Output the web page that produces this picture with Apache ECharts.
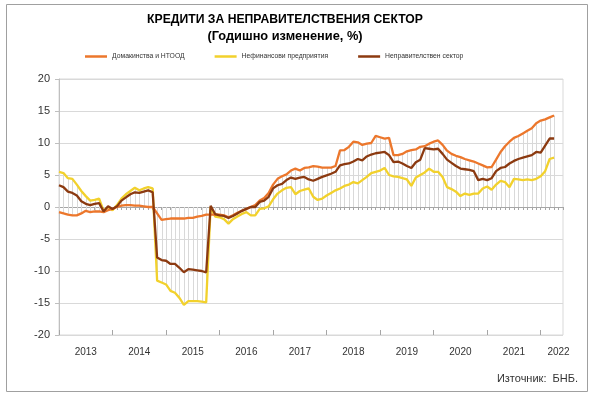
<!DOCTYPE html>
<html>
<head>
<meta charset="utf-8">
<script src="https://cdn.jsdelivr.net/npm/echarts@6/dist/echarts.min.js"></script>
<style>
html,body{margin:0;padding:0;background:#fff;}
#chart{width:591px;height:399px;}
</style>
</head>
<body>
<div id="chart"></div>
<script>
// Monthly categories: Jan 2013 .. Jun 2022
const months = [];
for (let y = 2013; y <= 2022; y++) {
  for (let m = 1; m <= 12; m++) {
    if (y === 2022 && m > 6) break;
    months.push(y + '-' + (m < 10 ? '0' + m : m));
  }
}

const seriesNames = ['Домакинства и НТООД', 'Нефинансови предприятия', 'Неправителствен сектор'];

const households = [
  -0.8,-1.0,-1.2,-1.3,-1.3,-1.0,-0.6,-0.8,-0.7,-0.7,-0.8,-0.5,
  -0.3,0.0,0.2,0.3,0.3,0.2,0.2,0.1,0.0,0.0,-1.0,-2.0,
  -1.9,-1.8,-1.8,-1.8,-1.8,-1.7,-1.7,-1.5,-1.4,-1.2,-1.2,-1.2,
  -1.2,-1.3,-1.6,-1.3,-0.9,-0.6,-0.3,0.0,0.3,1.0,1.4,2.2,
  3.5,4.4,4.8,5.1,5.7,6.0,5.7,6.1,6.2,6.4,6.3,6.15,
  6.15,6.15,6.4,8.85,8.9,9.4,10.2,10.1,9.7,9.9,10.0,11.1,
  10.9,10.7,10.8,8.1,8.1,8.3,8.7,8.9,9.0,9.4,9.5,9.9,
  10.2,10.4,9.7,8.8,8.3,8.0,7.8,7.5,7.3,7.1,6.8,6.5,
  6.2,6.25,7.4,8.6,9.5,10.2,10.8,11.1,11.5,11.9,12.3,13.1,
  13.5,13.7,14.0,14.3
];

const corporations = [
  5.5,5.3,4.5,4.4,3.5,2.5,1.7,1.0,1.1,1.3,-0.6,0.0,
  -0.5,0.3,1.3,2.0,2.5,3.0,2.6,2.9,3.1,2.9,-11.5,-11.8,
  -12.1,-13.1,-13.4,-14.2,-15.3,-14.7,-14.7,-14.7,-14.8,-14.9,0.0,-1.5,
  -1.6,-1.9,-2.6,-1.9,-1.5,-1.1,-0.8,-1.3,-1.3,-0.3,-0.2,0.1,
  1.2,2.1,2.6,3.0,3.1,2.0,2.5,2.7,2.9,1.6,1.1,1.3,
  1.8,2.2,2.6,2.9,3.3,3.5,3.9,3.7,4.2,4.7,5.3,5.5,
  5.7,6.1,5.0,4.8,4.7,4.5,4.3,3.3,4.6,5.0,5.4,6.0,
  5.5,5.5,4.7,3.1,2.8,2.4,1.7,2.1,1.9,2.1,2.1,2.9,
  3.2,2.7,3.5,4.1,3.9,3.1,4.4,4.3,4.2,4.3,4.2,4.4,
  4.8,5.6,7.5,7.7
];

const nonGovernment = [
  3.4,3.1,2.4,2.2,1.8,0.9,0.5,0.3,0.5,0.6,-0.7,0.1,
  -0.3,0.1,1.0,1.5,2.0,2.3,2.2,2.4,2.6,2.3,-7.9,-8.3,
  -8.4,-8.9,-8.9,-9.5,-10.2,-9.7,-9.8,-9.9,-10.0,-10.2,0.2,-1.1,
  -1.3,-1.4,-1.7,-1.4,-1.0,-0.6,-0.3,0.0,0.0,0.8,1.0,1.6,
  2.9,3.4,3.6,4.2,4.6,4.4,4.6,4.7,4.3,4.1,4.4,4.7,
  4.95,5.2,5.5,6.5,6.7,6.8,7.1,7.5,7.3,7.9,8.2,8.4,
  8.5,8.6,8.1,7.0,7.1,6.8,6.4,6.1,7.0,7.4,9.2,9.1,
  9.0,9.1,8.3,7.4,6.9,6.4,6.0,5.9,5.8,5.6,4.2,4.4,
  4.2,4.5,5.6,6.1,6.25,6.8,7.2,7.5,7.7,7.9,8.1,8.6,
  8.5,9.6,10.7,10.7
];

const yTicks = { min: -20, max: 20, interval: 5 };

// drop lines from the zero axis to the extreme value of each month
const dropLines = households.map(function (v, i) {
  const vals = [0, v, corporations[i], nonGovernment[i]];
  return [i, Math.min.apply(null, vals), Math.max.apply(null, vals)];
});

const FONT = 'Liberation Sans, Arial, sans-serif';
const chart = echarts.init(document.getElementById('chart'), null, { renderer: 'canvas' });

const baseCat = { type: 'category', data: months, boundaryGap: false, position: 'bottom', gridIndex: 0 };

chart.setOption({
  animation: false,
  backgroundColor: '#ffffff',
  title: {
    text: 'КРЕДИТИ ЗА НЕПРАВИТЕЛСТВЕНИЯ СЕКТОР',
    subtext: '(Годишно изменение, %)',
    left: 280,
    textAlign: 'center',
    top: 9,
    itemGap: 4,
    textStyle: { fontFamily: FONT, fontSize: 12.2, fontWeight: 'bold', color: '#000' },
    subtextStyle: { fontFamily: FONT, fontSize: 12.8, fontWeight: 'bold', color: '#000' }
  },
  legend: {
    data: seriesNames,
    left: 80,
    top: 48,
    icon: 'rect',
    itemWidth: 22,
    itemHeight: 2.5,
    itemGap: 30,
    textStyle: { fontFamily: FONT, fontSize: 6.8, color: '#333' }
  },
  grid: {
    left: 59, right: 28, top: 79, bottom: 64,
    show: true, borderColor: '#d9d9d9', borderWidth: 1
  },
  xAxis: [
    Object.assign({}, baseCat, {
      axisLine: { show: false, onZero: false },
      axisTick: { show: false },
      splitLine: { show: false },
      axisLabel: {
        interval: function (idx) { return idx % 12 === 6 || idx === 112; },
        formatter: function (v) { return v.slice(0, 4); },
        margin: 12,
        fontFamily: FONT, fontSize: 10, color: '#333'
      }
    }),
    Object.assign({}, baseCat, {
      axisLine: { show: true, onZero: true, lineStyle: { color: '#a6a6a6', width: 1 } },
      axisTick: { show: true, interval: 0, length: 3, lineStyle: { color: '#a6a6a6' } },
      axisLabel: { show: false },
      splitLine: { show: false }
    }),
    Object.assign({}, baseCat, {
      axisLine: { show: false, onZero: true },
      axisTick: { show: true, inside: true, length: 5,
        interval: function (idx) { return idx % 12 === 0; },
        lineStyle: { color: '#a6a6a6' } },
      axisLabel: { show: false },
      splitLine: { show: false }
    })
  ],
  yAxis: {
    type: 'value',
    min: yTicks.min, max: yTicks.max, interval: yTicks.interval,
    axisLine: { show: true, lineStyle: { color: '#bfbfbf' } },
    axisTick: { show: true, length: 4, lineStyle: { color: '#bfbfbf' } },
    splitLine: { show: true, lineStyle: { color: '#d9d9d9', width: 1 } },
    axisLabel: { margin: 9, fontFamily: FONT, fontSize: 11, color: '#333' }
  },
  series: [
    {
      type: 'custom',
      name: 'drop',
      xAxisIndex: 0,
      data: dropLines,
      encode: { x: 0, y: [1, 2] },
      silent: true,
      z: 1,
      renderItem: function (params, api) {
        const i = api.value(0);
        const p1 = api.coord([i, api.value(1)]);
        const p2 = api.coord([i, api.value(2)]);
        const x = Math.round(p1[0]) + 0.5;
        return {
          type: 'line',
          shape: { x1: x, y1: p1[1], x2: x, y2: p2[1] },
          style: { stroke: '#d9d9d9', lineWidth: 1 }
        };
      }
    },
    {
      name: seriesNames[0], type: 'line', data: households, symbol: 'none', z: 3,
      lineStyle: { color: '#ec772c', width: 2.3 }, itemStyle: { color: '#ec772c' }
    },
    {
      name: seriesNames[1], type: 'line', data: corporations, symbol: 'none', z: 2,
      lineStyle: { color: '#f2d12c', width: 2.3 }, itemStyle: { color: '#f2d12c' }
    },
    {
      name: seriesNames[2], type: 'line', data: nonGovernment, symbol: 'none', z: 4,
      lineStyle: { color: '#8c3a10', width: 2.3 }, itemStyle: { color: '#8c3a10' }
    }
  ],
  graphic: [
    {
      type: 'rect', silent: true, z: 100,
      shape: { x: 6.5, y: 4.5, width: 581, height: 387 },
      style: { fill: 'none', stroke: '#a0a0a0', lineWidth: 1 }
    },
    {
      type: 'text', right: 13, top: 373, z: 100,
      style: { text: 'Източник:  БНБ.', font: '11px ' + FONT, fill: '#333' }
    }
  ]
});
</script>
</body>
</html>
